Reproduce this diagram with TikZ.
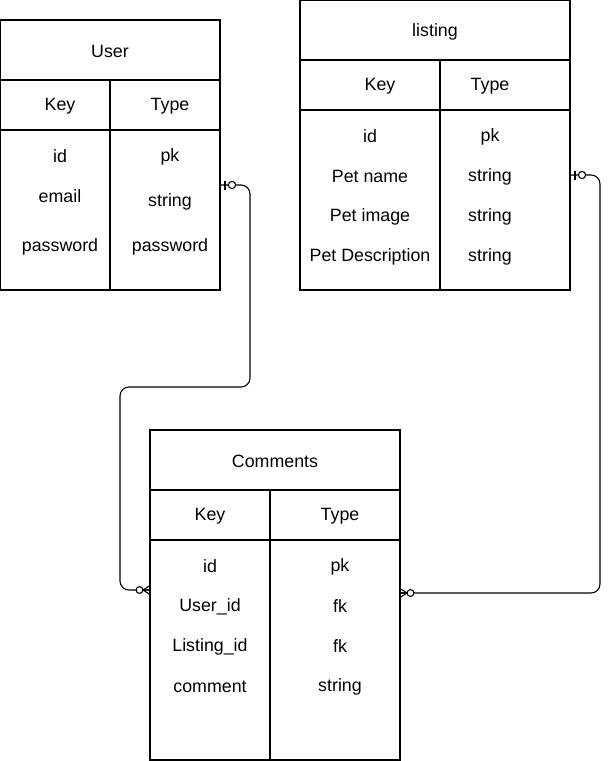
\documentclass[tikz,border=0pt]{standalone}
\usepackage{fontspec}
\setmainfont{Liberation Sans}
\usetikzlibrary{calc}
\begin{document}
\begin{tikzpicture}[x=1pt,y=-1pt,
  cell/.style={draw=black,line width=1.1pt,inner sep=0pt,outer sep=0pt,anchor=north west},
  lbl/.style={inner sep=0pt,yshift=-1.5pt,font=\fontsize{17.8}{20}\selectfont},
  rel/.style={draw=black,line width=1.1pt,rounded corners=9pt},
  zeroone/.pic={
    \draw[line width=1.1pt] (5,-4.5) -- (5,4.5);
    \draw[line width=1.1pt,fill=white] (12,0) circle (3.6);
  },
  zeromany/.pic={
    \draw[line width=1.1pt] (0,-4.5) -- (7,0) -- (0,4.5) (0,0) -- (7,0);
    \draw[line width=1.1pt,fill=white] (10.5,0) circle (3.4);
  }]
\useasboundingbox (0,0) rectangle (610,761);

% ---------- User ----------
\node[cell,minimum width=220,minimum height=60] (userT) at (0,20) {};
\node[cell,minimum width=110,minimum height=50] (userK) at (userT.south west) {};
\node[cell,minimum width=110,minimum height=50] (userY) at (userK.north east) {};
\node[cell,minimum width=110,minimum height=160] (userKB) at (userK.south west) {};
\node[cell,minimum width=110,minimum height=160] (userYB) at (userY.south west) {};
\node[lbl] (userTitle) at (userT.center) {User};
\node[lbl] (userKey) at (60,105) {Key};
\node[lbl] (userType) at (170,105) {Type};
\node[lbl] (u1k) at (60,155) {id};
\node[lbl] (u1t) at (170,155) {pk};
\node[lbl] (u2k) at (60,195) {email};
\node[lbl] (u2t) at (170,200) {string};
\node[lbl] (u3k) at (60,245) {password};
\node[lbl] (u3t) at (170,245) {password};

% ---------- listing ----------
\node[cell,minimum width=270,minimum height=60] (lisT) at (300,0) {};
\node[cell,minimum width=140,minimum height=50] (lisK) at (lisT.south west) {};
\node[cell,minimum width=130,minimum height=50] (lisY) at (lisK.north east) {};
\node[cell,minimum width=140,minimum height=180] (lisKB) at (lisK.south west) {};
\node[cell,minimum width=130,minimum height=180] (lisYB) at (lisY.south west) {};
\node[lbl] (lisTitle) at (435,30) {listing};
\node[lbl] (lisKey) at (380,85) {Key};
\node[lbl] (lisType) at (490,85) {Type};
\node[lbl] (l1k) at (370,135) {id};
\node[lbl] (l1t) at (490,135) {pk};
\node[lbl] (l2k) at (370,175) {Pet name};
\node[lbl] (l2t) at (490,175) {string};
\node[lbl] (l3k) at (370,215) {Pet image};
\node[lbl] (l3t) at (490,215) {string};
\node[lbl] (l4k) at (370,255) {Pet Description};
\node[lbl] (l4t) at (490,255) {string};

% ---------- Comments ----------
\node[cell,minimum width=250,minimum height=60] (comT) at (150,430) {};
\node[cell,minimum width=120,minimum height=50] (comK) at (comT.south west) {};
\node[cell,minimum width=130,minimum height=50] (comY) at (comK.north east) {};
\node[cell,minimum width=120,minimum height=220] (comKB) at (comK.south west) {};
\node[cell,minimum width=130,minimum height=220] (comYB) at (comY.south west) {};
\node[lbl] (comTitle) at (275,460) {Comments};
\node[lbl] (comKey) at (210,515) {Key};
\node[lbl] (comType) at (340,515) {Type};
\node[lbl] (c1k) at (210,565) {id};
\node[lbl] (c1t) at (340,565) {pk};
\node[lbl] (c2k) at (210,605) {User\_id};
\node[lbl] (c2t) at (340,605) {fk};
\node[lbl] (c3k) at (210,645) {Listing\_id};
\node[lbl] (c3t) at (340,645) {fk};
\node[lbl] (c4k) at (210,685) {comment};
\node[lbl] (c4t) at (340,685) {string};

% ---------- relationship ends ----------
\coordinate (uA) at ($(userYB.north east)+(0,55)$);
\coordinate (lA) at ($(lisYB.north east)+(0,65)$);
\coordinate (cL) at ($(comKB.north west)+(0,50)$);
\coordinate (cR) at ($(comYB.north east)+(0,53)$);
\coordinate (bendA) at (250,387);
\coordinate (bendB) at (120,590);
\coordinate (bendC) at (600,593);

% ---------- relationships ----------
\draw[rel] (uA) -| (bendA) -| (bendB) -- (cL);
\draw[rel] (lA) -| (bendC) -- (cR);

\pic at (uA) {zeroone};
\pic at (lA) {zeroone};
\pic[rotate=180] at (cL) {zeromany};
\pic at (cR) {zeromany};
\end{tikzpicture}
\end{document}
